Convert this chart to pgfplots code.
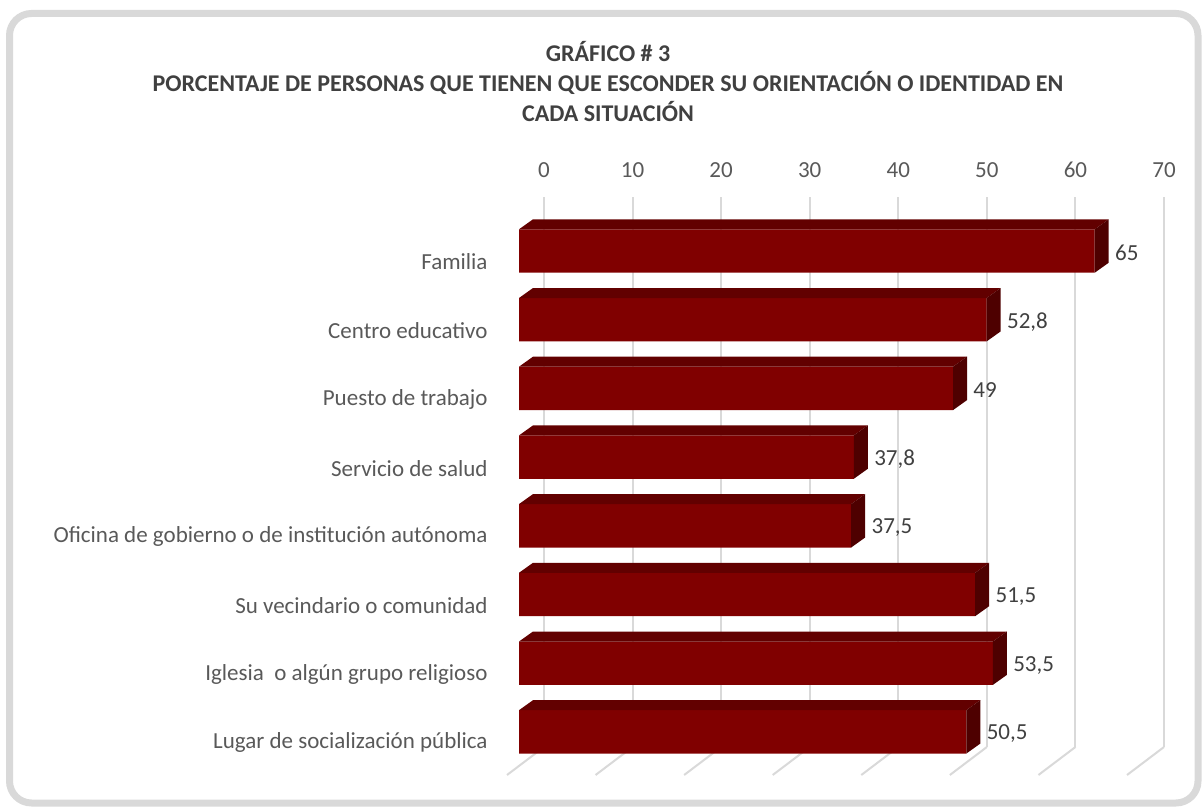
\documentclass[border=0pt]{standalone}
\usepackage{pgfplots}
\pgfplotsset{compat=1.18}
\usepackage{pgfplotstable}
\usepackage{fontspec}
\setmainfont{Carlito}

\definecolor{barfront}{RGB}{128,0,0}
\definecolor{bartop}{RGB}{98,0,0}
\definecolor{barside}{RGB}{78,0,0}
\definecolor{gridc}{RGB}{217,217,217}
\definecolor{labelc}{RGB}{89,89,89}
\definecolor{titlec}{RGB}{64,64,64}

% porcentaje por situacion (7 = Familia, arriba)
\pgfplotstableread{
idx val
7 65
6 52.8
5 49
4 37.8
3 37.5
2 51.5
1 53.5
0 50.5
}\datos

\begin{document}
\begin{tikzpicture}
  % marco
  \draw[gridc, line width=3.5pt, rounded corners=11pt] (4.75pt,396.75pt) rectangle (599pt,2pt);

  \node[align=center, font=\bfseries\fontsize{12}{15}\selectfont, text=titlec] at (304pt,362.5pt)
    {GRÁFICO \# 3\\PORCENTAJE DE PERSONAS QUE TIENEN QUE ESCONDER SU ORIENTACIÓN O IDENTIDAD EN\\CADA SITUACIÓN};

  % pared del fondo: rejilla y numeros
  \begin{axis}[
    at={(272pt,30pt)}, anchor=south west,
    width=310pt, height=275pt, scale only axis,
    xmin=0, xmax=70, ymin=0, ymax=1,
    axis line style={draw=none},
    xtick={0,10,...,70}, ytick=\empty,
    xticklabel pos=upper,
    major tick length=0pt,
    xmajorgrids,
    major grid style={gridc, line width=1pt},
    xticklabel style={font=\fontsize{11.5}{13.8}\selectfont, text=labelc, yshift=6pt},
    /pgf/number format/assume math mode=true,
    clip=false
  ]
    \pgfplotsinvokeforeach{0,10,...,70}{
      \draw[gridc, line width=1pt] (axis cs:#1,0) -- ++(-18.5pt,-14pt);
    }
  \end{axis}

  % barras
  \begin{axis}[
    at={(259.5pt,20.375pt)}, anchor=south west,
    width=310pt, height=274.8pt, scale only axis,
    xmin=0, xmax=70, ymin=-0.5, ymax=7.5,
    axis line style={draw=none},
    xtick=\empty,
    ytick={0,...,7},
    yticklabels={Lugar de socialización pública, Iglesia\ \ o algún grupo religioso\ ,
      Su vecindario o comunidad, Oficina de gobierno o de institución autónoma,
      Servicio de salud, Puesto de trabajo, Centro educativo, Familia\ },
    major tick length=0pt,
    yticklabel style={font=\fontsize{11.5}{13.8}\selectfont, text=labelc, xshift=-12.2pt, yshift=-5.5pt},
    clip=false
  ]
    \addplot[
      xbar, bar width=21.7pt, bar shift=0pt,
      fill=barfront, draw=none,
      nodes near coords,
      nodes near coords style={font=\fontsize{11.5}{13.8}\selectfont, text=titlec, xshift=6.7pt, yshift=-1pt,
        /pgf/number format/.cd, use comma, 1000 sep={}, assume math mode=true}
    ] table[x=val, y=idx]{\datos};

    % caras superior y lateral de cada barra, leidas de la tabla
    \pgfplotsinvokeforeach{0,...,7}{
      \pgfplotstablegetelem{#1}{val}\of\datos \let\bv\pgfplotsretval
      \pgfplotstablegetelem{#1}{idx}\of\datos \let\bk\pgfplotsretval
      \edef\caras{
        \noexpand\fill[bartop] ([yshift=10.85pt]axis cs:0,\bk) -- ([yshift=10.85pt]axis cs:\bv,\bk)
          -- ([shift={(7pt,15.85pt)}]axis cs:\bv,\bk) -- ([shift={(7pt,15.85pt)}]axis cs:0,\bk) -- cycle;
        \noexpand\fill[barside] ([yshift=10.85pt]axis cs:\bv,\bk) -- ([shift={(7pt,15.85pt)}]axis cs:\bv,\bk)
          -- ([shift={(7pt,-5.85pt)}]axis cs:\bv,\bk) -- ([yshift=-10.85pt]axis cs:\bv,\bk) -- cycle;
      }
      \caras
    }
  \end{axis}

  \pgfresetboundingbox
  \useasboundingbox (0,0) rectangle (601pt,403.5pt);
\end{tikzpicture}
\end{document}
